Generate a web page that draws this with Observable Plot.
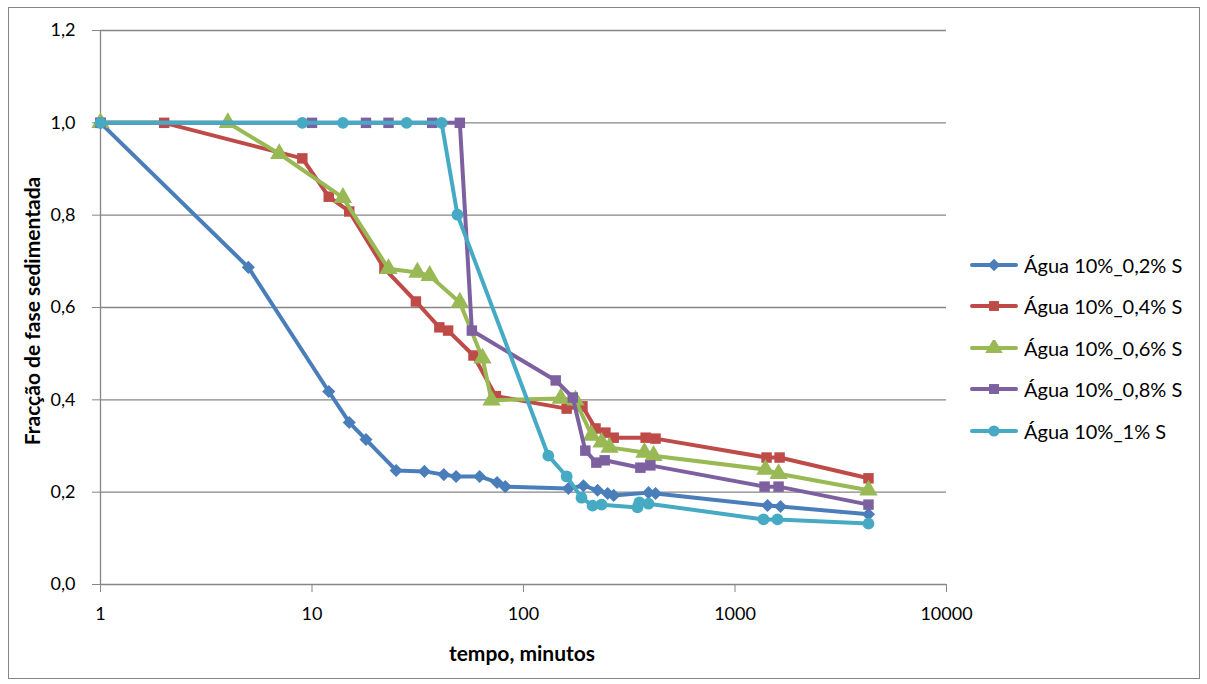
<!DOCTYPE html>
<html>
<head>
<meta charset="utf-8">
<script src="https://cdn.jsdelivr.net/npm/d3@7"></script>
<script src="https://cdn.jsdelivr.net/npm/@observablehq/plot@0.6"></script>
<style>
  html, body { margin: 0; padding: 0; background: #fff; }
  #wrap { position: relative; width: 1207px; height: 684px; font-family: Lato, "Open Sans", sans-serif; }
  #frame { position: absolute; left: 8px; top: 7px; width: 1192px; height: 672px; border: 1px solid #868686; box-sizing: border-box; pointer-events: none; }
  #chart { position: absolute; left: 0; top: 0; }
  .title { position: absolute; font-weight: bold; font-size: 21px; color: #000; white-space: nowrap; line-height: 1; }
  #xtitle { left: 522px; top: 642px; transform: translateX(-50%); }
  #ytitle { left: 31px; top: 311px; transform: translate(-50%, -50%) rotate(-90deg); }
  #legend { position: absolute; left: 970px; top: 244px; font-size: 20px; color: #000; }
  .li { display: flex; align-items: center; height: 41.5px; white-space: nowrap; }
  .li svg { margin-right: 6px; }
</style>
</head>
<body>
<div id="wrap">
  <div id="chart"></div>
  <div class="title" id="xtitle">tempo, minutos</div>
  <div class="title" id="ytitle">Fracção de fase sedimentada</div>
  <div id="legend"></div>
  <div id="frame"></div>
</div>
<script>
const seriesNames = ["Água 10%_0,2% S", "Água 10%_0,4% S", "Água 10%_0,6% S", "Água 10%_0,8% S", "Água 10%_1% S"];
const seriesColors = ["#4A7EBB", "#BE4B48", "#98B954", "#7D60A0", "#46AAC5"];
const seriesSymbols = ["diamond2", "square", "triangle", "square", "circle"];

const t02 = [1, 5, 12, 15, 18, 25, 34, 42, 48, 62, 75, 82, 163, 192, 224, 250, 267, 390, 421, 1425, 1641, 4277];
const f02 = [1.0, 0.687, 0.418, 0.351, 0.314, 0.247, 0.245, 0.238, 0.234, 0.234, 0.221, 0.212, 0.208, 0.214, 0.204, 0.197, 0.193, 0.199, 0.197, 0.171, 0.169, 0.152];

const t04 = [1, 2, 9, 12, 15, 22, 31, 40, 44, 58, 74, 160, 190, 219, 244, 267, 378, 421, 1410, 1625, 4277];
const f04 = [1.0, 1.0, 0.923, 0.840, 0.808, 0.684, 0.613, 0.557, 0.550, 0.496, 0.408, 0.381, 0.386, 0.338, 0.329, 0.318, 0.318, 0.316, 0.275, 0.275, 0.230];

const t06 = [1, 4, 7, 14, 23, 31.5, 36, 50, 64, 70.6, 150, 176, 210, 234, 255, 373, 412, 1393, 1607, 4277];
const f06 = [1.0, 1.0, 0.933, 0.838, 0.684, 0.676, 0.669, 0.611, 0.490, 0.399, 0.403, 0.399, 0.323, 0.308, 0.297, 0.286, 0.279, 0.249, 0.240, 0.204];

const t08 = [1, 10, 18, 23, 37, 50, 57, 142, 171, 196, 221, 242, 357, 398, 1380, 1607, 4277];
const f08 = [1.0, 1.0, 1.0, 1.0, 1.0, 1.0, 0.550, 0.442, 0.405, 0.290, 0.264, 0.269, 0.253, 0.258, 0.212, 0.212, 0.173];

const t10 = [1, 9, 14, 28, 41, 48.7, 131, 160, 188, 212, 234, 346, 353, 390, 1364, 1588, 4277];
const f10 = [1.0, 1.0, 1.0, 1.0, 1.0, 0.801, 0.279, 0.234, 0.188, 0.171, 0.173, 0.167, 0.178, 0.175, 0.141, 0.141, 0.132];

const yTicks = [0, 0.2, 0.4, 0.6, 0.8, 1.0, 1.2];
const xTicks = [1, 10, 100, 1000, 10000];

const allT = [t02, t04, t06, t08, t10];
const allF = [f02, f04, f06, f08, f10];

const rows = [];
allT.forEach((ts, i) => ts.forEach((t, j) => rows.push({series: seriesNames[i], t, f: allF[i][j]})));

const marks = [
  Plot.ruleY(yTicks, {stroke: "#868686", strokeWidth: 1.3}),
  Plot.ruleX([1], {stroke: "#868686", strokeWidth: 1.3}),
  Plot.axisY(yTicks, {tickSize: 8, tickPadding: 17, stroke: "#868686", fill: "#000", tickFormat: d => d.toFixed(1).replace(".", ","), label: null, fontSize: 18}),
  Plot.axisX(xTicks, {tickSize: 8, tickPadding: 15, stroke: "#868686", fill: "#000", tickFormat: d => String(d), label: null, fontSize: 18})
];
seriesNames.forEach((name, i) => {
  const d = rows.filter(r => r.series === name);
  marks.push(Plot.line(d, {x: "t", y: "f", stroke: seriesColors[i], strokeWidth: 4, strokeLinejoin: "round", strokeLinecap: "round"}));
  marks.push(Plot.dot(d, {x: "t", y: "f", fill: seriesColors[i], stroke: "none", symbol: () => seriesSymbols[i], r: seriesSymbols[i] === "triangle" ? 6.8 : 5.9}));
});

const chart = Plot.plot({
  width: 1207,
  height: 684,
  marginLeft: 100,
  marginRight: 261,
  marginTop: 30,
  marginBottom: 100,
  style: {fontFamily: "Lato, 'Open Sans', sans-serif", fontSize: "18px", background: "transparent"},
  x: {type: "log", domain: [1, 10000]},
  y: {domain: [0, 1.2]},
  symbol: {type: "identity"},
  marks
});
document.getElementById("chart").appendChild(chart);

const legend = document.getElementById("legend");
seriesNames.forEach((name, i) => {
  const row = document.createElement("div");
  row.className = "li";
  const sym = {diamond2: d3.symbolDiamond2, square: d3.symbolSquare, triangle: d3.symbolTriangle, circle: d3.symbolCircle}[seriesSymbols[i]];
  const r = seriesSymbols[i] === "triangle" ? 6.5 : 5.6;
  const path = d3.symbol(sym, Math.PI * r * r)();
  row.innerHTML = `<svg width="48" height="16"><line x1="2" y1="8" x2="46" y2="8" stroke="${seriesColors[i]}" stroke-width="4" stroke-linecap="round"/><path d="${path}" transform="translate(24,8)" fill="${seriesColors[i]}"/></svg><span>${name}</span>`;
  legend.appendChild(row);
});
</script>
</body>
</html>
